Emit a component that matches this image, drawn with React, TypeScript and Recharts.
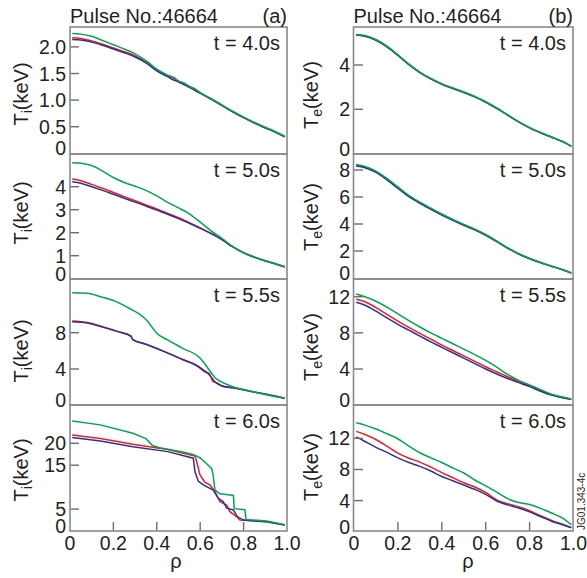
import React from 'react';
import { LineChart, Line, XAxis, YAxis } from 'recharts';

// ---------- data ----------
// Panel (a): ion temperature Ti (keV) vs rho
const rhoTi40 = [0.01, 0.05, 0.1, 0.15, 0.2, 0.25, 0.3, 0.35, 0.4, 0.45, 0.48, 0.5, 0.52, 0.55, 0.58, 0.6, 0.65, 0.7, 0.75, 0.8, 0.85, 0.9, 0.95, 0.99];
const ti40Green = [2.25, 2.24, 2.2, 2.12, 2.04, 1.96, 1.87, 1.74, 1.58, 1.47, 1.42, 1.36, 1.33, 1.26, 1.2, 1.14, 1.03, 0.91, 0.79, 0.68, 0.58, 0.49, 0.4, 0.32];
const ti40Blue = [2.14, 2.13, 2.09, 2.03, 1.96, 1.89, 1.81, 1.7, 1.55, 1.44, 1.37, 1.35, 1.3, 1.25, 1.17, 1.13, 1.02, 0.9, 0.78, 0.67, 0.57, 0.48, 0.39, 0.31];
const ti40Red = [2.17, 2.16, 2.11, 2.05, 1.98, 1.91, 1.83, 1.71, 1.56, 1.45, 1.4, 1.34, 1.31, 1.24, 1.18, 1.13, 1.02, 0.9, 0.78, 0.67, 0.57, 0.48, 0.39, 0.31];

const rhoTi50 = [0.01, 0.05, 0.1, 0.15, 0.2, 0.25, 0.3, 0.35, 0.4, 0.45, 0.5, 0.55, 0.6, 0.65, 0.7, 0.75, 0.8, 0.85, 0.9, 0.95, 0.99];
const ti50Green = [5.04, 5.02, 4.92, 4.68, 4.4, 4.18, 4.02, 3.84, 3.6, 3.32, 3.08, 2.82, 2.46, 2.08, 1.75, 1.4, 1.13, 0.94, 0.78, 0.64, 0.52];
const ti50Blue = [4.22, 4.15, 4.0, 3.84, 3.67, 3.5, 3.33, 3.16, 2.98, 2.8, 2.61, 2.41, 2.19, 1.96, 1.7, 1.38, 1.12, 0.93, 0.77, 0.63, 0.51];
const ti50Red = [4.33, 4.26, 4.1, 3.93, 3.75, 3.57, 3.39, 3.21, 3.03, 2.84, 2.65, 2.44, 2.21, 1.97, 1.71, 1.39, 1.13, 0.94, 0.78, 0.64, 0.52];

const rhoTi55Green = [0.01, 0.08, 0.14, 0.21, 0.28, 0.32, 0.35, 0.38, 0.4, 0.45, 0.52, 0.6, 0.62, 0.64, 0.655, 0.67, 0.7, 0.75, 0.83, 0.91, 0.99];
const ti55Green = [12.41, 12.34, 11.97, 11.45, 10.6, 10.05, 9.45, 8.55, 7.95, 7.2, 6.28, 5.18, 4.6, 3.95, 3.45, 3.0, 2.55, 2.05, 1.58, 1.13, 0.77];
const rhoTi55Blue = [0.01, 0.08, 0.15, 0.22, 0.28, 0.29, 0.35, 0.45, 0.52, 0.6, 0.64, 0.68, 0.72, 0.75, 0.83, 0.91, 0.99];
const ti55Blue = [9.21, 9.08, 8.62, 8.12, 7.62, 7.22, 6.72, 5.75, 5.05, 4.15, 3.4, 2.35, 2.05, 1.95, 1.55, 1.18, 0.77];
const rhoTi55Red = [0.01, 0.08, 0.15, 0.22, 0.28, 0.29, 0.35, 0.45, 0.52, 0.58, 0.62, 0.64, 0.66, 0.68, 0.7, 0.75, 0.83, 0.91, 0.99];
const ti55Red = [9.3, 9.12, 8.66, 8.15, 7.65, 7.25, 6.74, 5.78, 5.02, 4.45, 3.7, 3.55, 2.6, 2.45, 2.1, 1.9, 1.55, 1.18, 0.77];

const rhoTi60Green = [0.01, 0.14, 0.29, 0.35, 0.38, 0.42, 0.52, 0.57, 0.6, 0.63, 0.653, 0.66, 0.668, 0.69, 0.72, 0.753, 0.757, 0.806, 0.811, 0.906, 0.99];
const ti60Green = [25.1, 24.2, 22.3, 21.05, 19.5, 18.9, 18.0, 17.4, 16.65, 15.35, 14.2, 12.7, 9.3, 8.5, 8.3, 8.1, 5.1, 4.85, 2.65, 2.28, 1.45];
const rhoTi60Blue = [0.01, 0.14, 0.29, 0.45, 0.568, 0.576, 0.591, 0.614, 0.66, 0.683, 0.706, 0.722, 0.753, 0.771, 0.799, 0.906, 0.99];
const ti60Blue = [21.3, 20.5, 19.2, 18.1, 16.6, 13.5, 11.4, 10.5, 9.35, 7.45, 6.7, 5.2, 4.8, 3.3, 2.5, 2.13, 1.37];
const rhoTi60Red = [0.01, 0.14, 0.29, 0.45, 0.576, 0.584, 0.599, 0.622, 0.645, 0.668, 0.691, 0.722, 0.737, 0.768, 0.783, 0.906, 0.99];
const ti60Red = [21.9, 21.1, 19.8, 18.6, 17.1, 15.8, 12.8, 11.1, 10.5, 9.0, 6.7, 5.9, 4.4, 3.3, 2.5, 2.13, 1.37];

// Panel (b): electron temperature Te (keV) vs rho
const rhoTe = [0.01, 0.05, 0.1, 0.15, 0.2, 0.25, 0.3, 0.35, 0.4, 0.45, 0.5, 0.55, 0.6, 0.65, 0.7, 0.75, 0.8, 0.85, 0.9, 0.95, 0.99];
const te40Green = [5.38, 5.33, 5.15, 4.85, 4.46, 4.04, 3.68, 3.39, 3.15, 2.96, 2.78, 2.58, 2.34, 2.06, 1.75, 1.44, 1.17, 0.95, 0.75, 0.55, 0.33];
const te40Blue = [5.35, 5.3, 5.12, 4.82, 4.43, 4.02, 3.66, 3.37, 3.13, 2.94, 2.76, 2.56, 2.32, 2.04, 1.74, 1.43, 1.16, 0.94, 0.74, 0.54, 0.33];
const te40Red = [5.36, 5.31, 5.13, 4.83, 4.44, 4.03, 3.67, 3.38, 3.14, 2.95, 2.77, 2.57, 2.33, 2.05, 1.74, 1.43, 1.16, 0.94, 0.74, 0.54, 0.33];

const te50Green = [8.4, 8.27, 7.92, 7.38, 6.75, 6.12, 5.62, 5.17, 4.74, 4.34, 3.97, 3.62, 3.22, 2.74, 2.24, 1.81, 1.45, 1.15, 0.88, 0.62, 0.38];
const te50Blue = [8.3, 8.17, 7.82, 7.27, 6.64, 6.02, 5.53, 5.09, 4.67, 4.28, 3.91, 3.56, 3.16, 2.69, 2.2, 1.78, 1.43, 1.13, 0.87, 0.61, 0.37];
const te50Red = [8.35, 8.22, 7.87, 7.32, 6.69, 6.07, 5.57, 5.13, 4.7, 4.31, 3.94, 3.59, 3.19, 2.72, 2.22, 1.8, 1.44, 1.14, 0.87, 0.61, 0.37];

const te55Green = [12.3, 12.0, 11.5, 10.85, 10.1, 9.35, 8.65, 8.0, 7.4, 6.8, 6.2, 5.6, 4.95, 4.2, 3.4, 2.75, 2.25, 1.72, 1.22, 0.9, 0.68];
const te55Blue = [11.38, 11.05, 10.4, 9.65, 8.95, 8.3, 7.65, 7.0, 6.4, 5.8, 5.2, 4.6, 4.0, 3.45, 2.95, 2.5, 2.05, 1.55, 1.12, 0.83, 0.65];
const te55Red = [11.71, 11.45, 10.8, 10.05, 9.3, 8.6, 7.95, 7.3, 6.65, 6.05, 5.45, 4.85, 4.25, 3.7, 3.15, 2.65, 2.15, 1.6, 1.15, 0.85, 0.66];

const te60Green = [14.0, 13.7, 13.2, 12.6, 11.95, 11.0, 10.15, 9.5, 8.9, 8.2, 7.55, 6.65, 5.9, 5.1, 4.25, 3.75, 3.5, 3.0, 2.4, 1.75, 0.9];
const te60Blue = [12.2, 11.6, 10.85, 10.2, 9.5, 8.9, 8.4, 7.8, 7.1, 6.55, 6.0, 5.45, 4.8, 3.95, 3.45, 3.05, 2.55, 1.95, 1.35, 0.9, 0.5];
const te60Red = [12.9, 12.5, 11.85, 11.0, 10.1, 9.45, 8.95, 8.3, 7.6, 6.95, 6.3, 5.75, 5.05, 4.1, 3.6, 3.2, 2.7, 2.05, 1.45, 0.95, 0.55];

// tick values
const rhoTicks = [0, 0.2, 0.4, 0.6, 0.8, 1.0];
const ti40Ticks = [0, 0.5, 1.0, 1.5, 2.0];
const ti50Ticks = [0, 1, 2, 3, 4];
const ti55Ticks = [0, 4, 8];
const ti60Ticks = [0, 5, 15, 20];
const te40Ticks = [0, 2, 4];
const te50Ticks = [0, 2, 4, 6, 8];
const te55Ticks = [0, 4, 8, 12];
const te60Ticks = [0, 4, 8, 12];

const times = ['t = 4.0s', 't = 5.0s', 't = 5.5s', 't = 6.0s'];
const pulseTitle = 'Pulse No.:46664';

// ---------- styles / layout ----------
const BLUE = '#2e3192';
const RED = '#ed1c24';
const GREEN = '#00a651';
const FRAME = '#8a8a8a';
const TICK = '#6e6e6e';
const INK = '#231f20';
const FONT = '"Liberation Sans", Arial, Helvetica, sans-serif';

const COLS = [
  { left: 70, width: 217 },
  { left: 353.5, width: 219.5 },
];
const ROWS = [
  { top: 27, height: 127 },
  { top: 154, height: 125 },
  { top: 279, height: 126 },
  { top: 405, height: 126 },
];
const YAXIS_W = 60;
const XAXIS_H = 47;
const PAD_R = 18;
const PAD_B = 14;

type Series = { rho: number[]; val: number[]; color: string };
type PanelDef = {
  col: number;
  row: number;
  domain: [number, number];
  ticks: number[];
  fmt: (v: number) => string;
  curve: 'monotone' | 'linear';
  series: Series[];
};

const plain = (v: number) => String(v);
const oneDec = (v: number) => (v === 0 ? '0' : v.toFixed(1));

const panels: PanelDef[] = [
  {
    col: 0, row: 0, domain: [-0.013, 2.374], ticks: ti40Ticks, fmt: oneDec, curve: 'monotone',
    series: [
      { rho: rhoTi40, val: ti40Red, color: RED },
      { rho: rhoTi40, val: ti40Blue, color: BLUE },
      { rho: rhoTi40, val: ti40Green, color: GREEN },
    ],
  },
  {
    col: 0, row: 1, domain: [-0.013, 5.422], ticks: ti50Ticks, fmt: plain, curve: 'monotone',
    series: [
      { rho: rhoTi50, val: ti50Red, color: RED },
      { rho: rhoTi50, val: ti50Blue, color: BLUE },
      { rho: rhoTi50, val: ti50Green, color: GREEN },
    ],
  },
  {
    col: 0, row: 2, domain: [0.03, 13.92], ticks: ti55Ticks, fmt: plain, curve: 'monotone',
    series: [
      { rho: rhoTi55Red, val: ti55Red, color: RED },
      { rho: rhoTi55Blue, val: ti55Blue, color: BLUE },
      { rho: rhoTi55Green, val: ti55Green, color: GREEN },
    ],
  },
  {
    col: 0, row: 3, domain: [0, 28.73], ticks: ti60Ticks, fmt: plain, curve: 'linear',
    series: [
      { rho: rhoTi60Red, val: ti60Red, color: RED },
      { rho: rhoTi60Blue, val: ti60Blue, color: BLUE },
      { rho: rhoTi60Green, val: ti60Green, color: GREEN },
    ],
  },
  {
    col: 1, row: 0, domain: [-0.018, 5.716], ticks: te40Ticks, fmt: plain, curve: 'monotone',
    series: [
      { rho: rhoTe, val: te40Red, color: RED },
      { rho: rhoTe, val: te40Blue, color: BLUE },
      { rho: rhoTe, val: te40Green, color: GREEN },
    ],
  },
  {
    col: 1, row: 1, domain: [-0.074, 9.185], ticks: te50Ticks, fmt: plain, curve: 'monotone',
    series: [
      { rho: rhoTe, val: te50Red, color: RED },
      { rho: rhoTe, val: te50Blue, color: BLUE },
      { rho: rhoTe, val: te50Green, color: GREEN },
    ],
  },
  {
    col: 1, row: 2, domain: [0.022, 13.96], ticks: te55Ticks, fmt: plain, curve: 'monotone',
    series: [
      { rho: rhoTe, val: te55Red, color: RED },
      { rho: rhoTe, val: te55Blue, color: BLUE },
      { rho: rhoTe, val: te55Green, color: GREEN },
    ],
  },
  {
    col: 1, row: 3, domain: [0.09, 16.29], ticks: te60Ticks, fmt: plain, curve: 'monotone',
    series: [
      { rho: rhoTe, val: te60Red, color: RED },
      { rho: rhoTe, val: te60Blue, color: BLUE },
      { rho: rhoTe, val: te60Green, color: GREEN },
    ],
  },
];

const YTick = (props: any) => {
  const { x, y, payload, fmt } = props;
  const axisX = x + 4;
  const v = payload.value;
  return (
    <g>
      {v !== 0 && <line x1={axisX} x2={axisX + 9} y1={y} y2={y} stroke={TICK} strokeWidth={1.4} />}
      <text
        x={x}
        y={v === 0 ? y - 5 : y}
        dy="0.36em"
        textAnchor="end"
        fontFamily={FONT}
        fontSize={19.5}
        fill={INK}
      >
        {fmt(v)}
      </text>
    </g>
  );
};

const XTick = (props: any) => {
  const { x, y, payload } = props;
  const v = payload.value;
  const inner = v > 0 && v < 1;
  return (
    <g>
      {inner && <line x1={x} x2={x} y1={y} y2={y - 9} stroke={TICK} strokeWidth={1.4} />}
      <text x={x} y={y + 19} textAnchor="middle" fontFamily={FONT} fontSize={19.5} fill={INK}>
        {v === 0 ? '0' : v.toFixed(1)}
      </text>
    </g>
  );
};

function Panel({ def }: { def: PanelDef }) {
  const c = COLS[def.col];
  const r = ROWS[def.row];
  const bottom = def.row === 3;
  const padB = bottom ? 0 : PAD_B;
  const w = c.width + YAXIS_W + PAD_R;
  const h = r.height + (bottom ? XAXIS_H : 0) + padB;
  return (
    <div style={{ position: 'absolute', left: c.left - YAXIS_W, top: r.top, width: w, height: h }}>
      <LineChart width={w} height={h} margin={{ top: 0, right: PAD_R, bottom: padB, left: 0 }}>
        <XAxis
          type="number"
          dataKey="x"
          domain={[0, 1]}
          ticks={rhoTicks}
          hide={!bottom}
          height={XAXIS_H}
          allowDataOverflow
          axisLine={false}
          tickLine={false}
          tickSize={0}
          tickMargin={0}
          interval={0}
          tick={<XTick />}
        />
        <YAxis
          type="number"
          domain={def.domain}
          ticks={def.ticks}
          width={YAXIS_W}
          allowDataOverflow
          axisLine={false}
          tickLine={false}
          tickSize={0}
          tickMargin={4}
          interval={0}
          tick={(p: any) => <YTick {...p} fmt={def.fmt} />}
        />
        {def.series.map((s, i) => (
          <Line
            key={i}
            data={s.rho.map((rv, j) => ({ x: rv, y: s.val[j] }))}
            dataKey="y"
            type={def.curve}
            stroke={s.color}
            strokeWidth={1.5}
            dot={false}
            activeDot={false}
            isAnimationActive={false}
          />
        ))}
      </LineChart>
    </div>
  );
}

const yLabelCenters = [
  [94, 213, 351, 470],
  [95, 217, 347, 467],
];
const yLabelBaseX = [28, 317.5];
const subscripts = ['i', 'e'];
const panelLetters = ['(a)', '(b)'];

function Overlay() {
  return (
    <svg
      width={587}
      height={578}
      style={{ position: 'absolute', left: 0, top: 0, pointerEvents: 'none' }}
      fontFamily={FONT}
      fill={INK}
    >
      {COLS.map((c, ci) =>
        ROWS.map((r, ri) => (
          <rect
            key={`f${ci}${ri}`}
            x={c.left}
            y={r.top}
            width={c.width}
            height={r.height}
            fill="none"
            stroke={FRAME}
            strokeWidth={1.6}
          />
        ))
      )}
      {COLS.map((c, ci) => (
        <g key={`t${ci}`}>
          <text x={c.left} y={22.5} fontSize={20}>{pulseTitle}</text>
          <text x={c.left + c.width} y={22.5} fontSize={20} textAnchor="end">{panelLetters[ci]}</text>
          {ROWS.map((r, ri) => (
            <text key={ri} x={c.left + c.width - 7} y={r.top + 23} fontSize={20} textAnchor="end">
              {times[ri]}
            </text>
          ))}
          {ROWS.map((r, ri) => (
            <text
              key={`y${ri}`}
              transform={`translate(${yLabelBaseX[ci]},${yLabelCenters[ci][ri]}) rotate(-90)`}
              textAnchor="middle"
              fontSize={20}
            >
              T<tspan fontSize={14} dy={4}>{subscripts[ci]}</tspan>
              <tspan dy={-4}>(keV)</tspan>
            </text>
          ))}
          <text x={ci === 0 ? 176 : 468} y={568} fontSize={20} textAnchor="middle">ρ</text>
        </g>
      ))}
      <text transform="translate(585,530) rotate(-90)" fontSize={10}>JG01.343-4c</text>
    </svg>
  );
}

export default function App() {
  return (
    <div style={{ position: 'absolute', left: 0, top: 0, width: 587, height: 578, background: '#fff' }}>
      {panels.map((p, i) => (
        <Panel key={i} def={p} />
      ))}
      <Overlay />
    </div>
  );
}
